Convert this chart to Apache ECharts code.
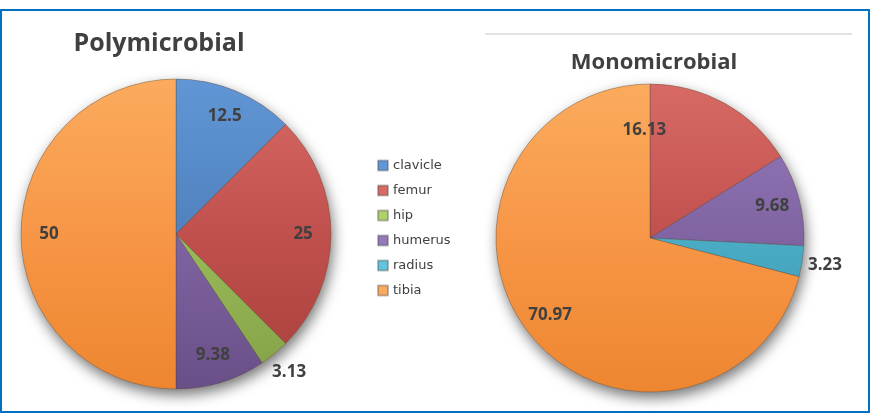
<!DOCTYPE html>
<html>
<head>
<meta charset="utf-8">
<script src="https://cdn.jsdelivr.net/npm/echarts@6/dist/echarts.min.js"></script>
<style>
  html, body { margin: 0; padding: 0; background: #fff; }
  #chart { width: 882px; height: 420px; }
</style>
</head>
<body>
<div id="chart"></div>
<script>
// data (percent of cases by bone)
const categories = ['clavicle', 'femur', 'hip', 'humerus', 'radius', 'tibia'];
const polyValues = [12.5, 25, 3.13, 9.38, 0, 50];
const monoValues = [0, 16.13, 0, 9.68, 3.23, 70.97];
const titles = ['Polymicrobial', 'Monomicrobial'];

// layout / style
const pieCenters = [[176, 234], [650, 238]];
const pieRadius = [155, 154];
const shades = {
  clavicle: ['#6196d6', '#4f81bd', '#3d6aa2'],
  femur: ['#d86a66', '#c0504d', '#a83f3c'],
  hip: ['#b0d068', '#9bbb59', '#82a046'],
  humerus: ['#957abb', '#8064a2', '#694f88'],
  radius: ['#62c4de', '#4bacc6', '#3592aa'],
  tibia: ['#fbab5e', '#f79646', '#ee8630']
};
// excel "best fit" put this one off its mid angle
const labelTweaks = [{}, { femur: { k: 0.7, turn: -32 } }];

function slices(values, s) {
  const c = pieCenters[s], r = pieRadius[s];
  return categories
    .map(function (name, i) { return { name: name, value: values[i] }; })
    .filter(function (d) { return d.value > 0; })
    .map(function (d) {
      const sh = shades[d.name];
      return {
        name: d.name,
        value: d.value,
        itemStyle: {
          color: {
            type: 'linear', x: 0, y: c[1] - r, x2: 0, y2: c[1] + r, global: true,
            colorStops: [
              { offset: 0, color: sh[0] },
              { offset: 0.5, color: sh[1] },
              { offset: 1, color: sh[2] }
            ]
          }
        }
      };
    });
}

const seriesData = [slices(polyValues, 0), slices(monoValues, 1)];

function placeLabel(p) {
  const c = pieCenters[p.seriesIndex], r = pieRadius[p.seriesIndex];
  const lx = p.labelRect.x + p.labelRect.width / 2;
  const ly = p.labelRect.y + p.labelRect.height / 2;
  let a = Math.atan2(lx - c[0], c[1] - ly);
  const item = seriesData[p.seriesIndex][p.dataIndex];
  let k = item.value < 5 ? 1.15 : 0.82;
  const t = labelTweaks[p.seriesIndex][item.name];
  if (t) { k = t.k; a += t.turn * Math.PI / 180; }
  return {
    x: c[0] + k * r * Math.sin(a),
    y: c[1] - k * r * Math.cos(a),
    align: 'center',
    verticalAlign: 'middle'
  };
}

const chart = echarts.init(document.getElementById('chart'));

function pieSeries(s) {
  return {
    type: 'pie',
    name: titles[s],
    center: pieCenters[s],
    radius: pieRadius[s],
    startAngle: 90,
    clockwise: true,
    z: 3,
    animation: false,
    itemStyle: { borderColor: 'rgba(70,70,70,0.35)', borderWidth: 1 },
    label: {
      show: true,
      position: 'inside',
      formatter: '{c}',
      color: '#404040',
      fontFamily: 'Open Sans',
      fontWeight: 'bold',
      fontSize: 17
    },
    labelLine: { show: false },
    labelLayout: placeLabel,
    emphasis: { disabled: true },
    data: seriesData[s]
  };
}

const option = {
  backgroundColor: '#fff',
  title: [
    {
      text: titles[0], left: 154, top: 26, textAlign: 'center',
      textStyle: { fontFamily: 'Open Sans', fontWeight: 'bold', fontSize: 25, color: '#404040' }
    },
    {
      text: titles[1], left: 649, top: 47, textAlign: 'center',
      textStyle: { fontFamily: 'Open Sans', fontWeight: 'bold', fontSize: 22, color: '#404040' }
    }
  ],
  legend: {
    data: categories,
    orient: 'vertical',
    left: 372,
    top: 154,
    itemWidth: 10,
    itemHeight: 10,
    itemGap: 12,
    icon: 'rect',
    selectedMode: false,
    textStyle: { fontFamily: 'DejaVu Sans', fontSize: 13, color: '#404040' }
  },
  graphic: [
    {
      type: 'rect', z: 0, silent: true,
      shape: { x: 1, y: 10, width: 868, height: 402 },
      style: { fill: null, stroke: '#0070c0', lineWidth: 2 }
    },
    {
      type: 'line', z: 0, silent: true,
      shape: { x1: 485, y1: 34, x2: 852, y2: 34 },
      style: { stroke: '#d9d9d9', lineWidth: 1.5 }
    },
    {
      type: 'circle', z: 0, silent: true,
      shape: { cx: pieCenters[0][0], cy: pieCenters[0][1], r: pieRadius[0] },
      style: { fill: '#f79646', shadowBlur: 14, shadowOffsetX: 2, shadowOffsetY: 6, shadowColor: 'rgba(0,0,0,0.55)' }
    },
    {
      type: 'circle', z: 0, silent: true,
      shape: { cx: pieCenters[1][0], cy: pieCenters[1][1], r: pieRadius[1] },
      style: { fill: '#f79646', shadowBlur: 14, shadowOffsetX: 2, shadowOffsetY: 6, shadowColor: 'rgba(0,0,0,0.55)' }
    }
  ],
  series: [pieSeries(0), pieSeries(1)]
};

chart.setOption(option);
</script>
</body>
</html>
